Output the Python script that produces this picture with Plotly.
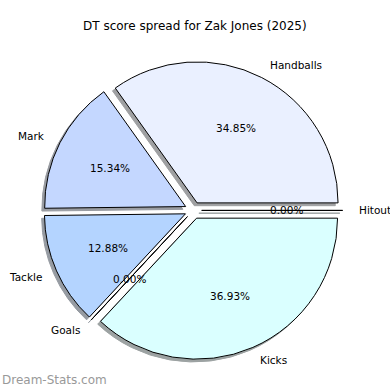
import math
import plotly.graph_objects as go

title = "DT score spread for Zak Jones (2025)"
labels = ["Handballs", "Mark", "Tackle", "Goals", "Kicks", "Hitout"]
values = [34.85, 15.34, 12.88, 0.0, 36.93, 0.0]
colors = ["#EAF0FF", "#C4D7FF", "#B4D4FF", "#B4D4FF", "#DAFFFF", "#DAFFFF"]

W = H = 390
CX, CY = 193.2, 210.4   # pie centre in px
R = 141.0               # pie radius in px
PULL = 0.06
SH = 2.8                # shadow offset px

half = R * (1 + PULL)
total = sum(values)
# plotly (counterclockwise) places the first slice clockwise of `rotation`;
# shift so the first slice starts at 3 o'clock going counterclockwise
ROT = 90 - 360 * values[0] / total


def dom(cx, cy):
    return dict(x=[(cx - half) / W, (cx + half) / W],
                y=[1 - (cy + half) / H, 1 - (cy - half) / H])


def shadow(c):
    c = c.lstrip("#")
    r, g, b = (int(c[i:i + 2], 16) for i in (0, 2, 4))
    f = lambda v: int(round(127.5 + 0.15 * v - 4))
    return "rgb(%d,%d,%d)" % (f(r), f(g), f(b))


shadow_colors = [shadow(c) for c in colors]

fig = go.Figure()
fig.add_trace(go.Pie(
    labels=labels, values=values, sort=False, direction="counterclockwise",
    rotation=ROT, pull=[PULL] * len(values), domain=dom(CX - SH, CY + SH),
    marker=dict(colors=shadow_colors, line=dict(color=shadow_colors, width=1)),
    textinfo="none", hoverinfo="skip", showlegend=False,
))
fig.add_trace(go.Pie(
    labels=labels, values=values, sort=False, direction="counterclockwise",
    rotation=ROT, pull=[PULL] * len(values), domain=dom(CX, CY),
    marker=dict(colors=colors, line=dict(color="black", width=1)),
    textinfo="none", hoverinfo="skip", showlegend=False,
))

annotations = []
cum = 0.0
for lab, v in zip(labels, values):
    frac = v / total
    theta = 2 * math.pi * (cum + frac / 2)
    cum += frac
    c, s = math.cos(theta), math.sin(theta)
    ox, oy = CX + PULL * R * c, CY - PULL * R * s
    lx, ly = ox + 1.1 * R * c, oy - 1.1 * R * s
    annotations.append(dict(
        x=lx / W, y=1 - ly / H, xref="paper", yref="paper", text=lab,
        showarrow=False, xanchor="left" if c > 0 else "right", yanchor="middle",
        font=dict(family="DejaVu Sans", size=10.5, color="black")))
    px, py = ox + 0.6 * R * c, oy - 0.6 * R * s
    annotations.append(dict(
        x=px / W, y=1 - py / H, xref="paper", yref="paper",
        text="%.2f%%" % (100 * frac), showarrow=False,
        xanchor="center", yanchor="middle",
        font=dict(family="DejaVu Sans", size=10.5, color="black")))

annotations.append(dict(
    x=0.5, y=1 - 26 / H, xref="paper", yref="paper", text=title,
    showarrow=False, xanchor="center", yanchor="middle",
    font=dict(family="DejaVu Sans", size=12, color="black")))
annotations.append(dict(
    x=0, y=1 - 380 / H, xref="paper", yref="paper", text="Dream-Stats.com",
    showarrow=False, xanchor="left", yanchor="middle",
    font=dict(family="DejaVu Sans", size=12, color="#999999")))

fig.update_layout(
    width=W, height=H, margin=dict(l=0, r=0, t=0, b=0, autoexpand=False),
    paper_bgcolor="white", plot_bgcolor="white",
    annotations=annotations,
)
fig.write_html(
    "out.html",
    config={"displayModeBar": False},
    post_script="document.body.style.margin='0';document.body.style.overflow='hidden';",
)
